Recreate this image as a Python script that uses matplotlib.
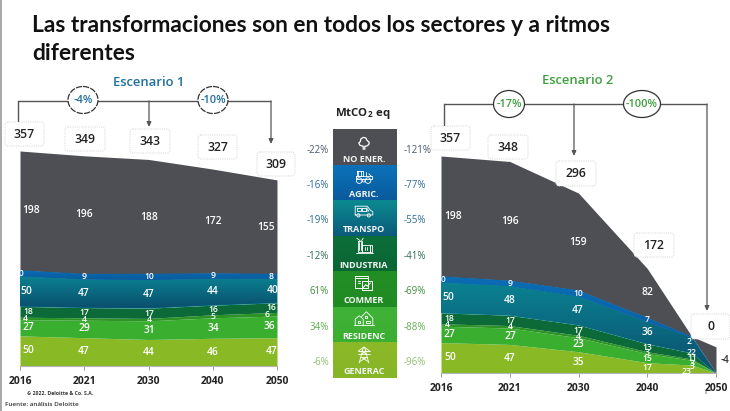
import numpy as np
import matplotlib
matplotlib.use("Agg")
import matplotlib.pyplot as plt
from matplotlib.patches import FancyBboxPatch, Ellipse, Rectangle, Circle
from matplotlib.colors import LinearSegmentedColormap

# ---------- data ----------
years = ["2016", "2021", "2030", "2040", "2050"]
sectors = ["GENERAC", "RESIDENC", "COMMER", "INDUSTRIA", "TRANSPO", "AGRIC.", "NO ENER."]

e1_generac = [50, 47, 44, 46, 47]
e1_residenc = [27, 29, 31, 34, 36]
e1_commer = [4, 4, 4, 5, 6]
e1_industria = [18, 17, 17, 16, 16]
e1_transpo = [50, 47, 47, 44, 40]
e1_agric = [10, 9, 10, 9, 8]
e1_noener = [198, 196, 188, 172, 155]
e1_totals = [357, 349, 343, 327, 309]

# Scenario 2 has an unlabelled knot between 2040 and 2050 where non-energy meets the sectors
e2_pos = [0, 1, 2, 3, 3.65, 4]
e2_generac = [50, 47, 35, 17, 13, 0]
e2_residenc = [27, 27, 23, 15, 8, 0]
e2_commer = [4, 4, 4, 3, 2, 0]
e2_industria = [18, 17, 17, 13, 10, 0]
e2_transpo = [50, 48, 47, 36, 25, 0]
e2_agric = [10, 9, 10, 7, 2, 0]
e2_noener = [198, 196, 159, 82]
e2_totals = [357, 348, 296, 172, 0]
e2_outline = [357, 348, 296, 172, 60, 43]
e2_knot_labels = ["23", "3", "3", "11", "22", "2"]
e2_end_label = "-4"

e1_pct = ["-22%", "-16%", "-19%", "-12%", "61%", "34%", "-6%"]
e2_pct = ["-121%", "-77%", "-55%", "-41%", "-69%", "-88%", "-96%"]
e1_bracket = ["-4%", "-10%"]
e2_bracket = ["-17%", "-100%"]

# ---------- style ----------
W, H = 730, 411
plt.rcParams["font.family"] = ["Open Sans", "DejaVu Sans"]
plt.rcParams["mathtext.fontset"] = "custom"
plt.rcParams["mathtext.bf"] = "Open Sans:bold"
plt.rcParams["mathtext.rm"] = "Open Sans:bold"

LIME, GREEN, MID, DARK, GREY = "#8ab926", "#3aae2f", "#2b9425", "#0b6a37", "#4d4f54"
TEAL = ("#0a8291", "#0a4f6e")
BLUE = ("#0b6cb4", "#0a5a9c")
LINE = "#555555"

fig = plt.figure(figsize=(W / 100, H / 100), dpi=100, facecolor="white")


def make_axes(x0, x1, base, scale, top):
    ax = fig.add_axes([x0 / W, 1 - base / H, (x1 - x0) / W, (base - top) / H])
    ax.set_xlim(0, 4)
    ax.set_ylim(0, (base - top) / scale)
    ax.patch.set_alpha(0)
    for s in ("top", "left", "right"):
        ax.spines[s].set_visible(False)
    ax.spines["bottom"].set_color("#b5b5b5")
    ax.set_yticks([])
    ax.set_xticks(range(5))
    ax.set_xticklabels(years, fontsize=7.4, fontweight="bold", color="#222222")
    ax.tick_params(axis="x", length=3, width=0.7, color="#999999", pad=4)
    return ax


def band(ax, x, y0, y1, color):
    poly = ax.fill_between(x, y0, y1, color=color if isinstance(color, str) else color[0], lw=0)
    if not isinstance(color, str):
        cmap = LinearSegmentedColormap.from_list("g", [color[0], color[1]])
        im = ax.imshow(np.linspace(0, 1, 128).reshape(-1, 1), cmap=cmap, aspect="auto",
                       extent=(min(x), max(x), float(np.min(y0)), float(np.max(y1))), origin="upper",
                       zorder=poly.get_zorder() + 0.1)
        im.set_clip_path(poly.get_paths()[0], transform=ax.transData)
    ax.set_xlim(0, 4)


def draw_stack(ax, x, layers, outline, top_ylim):
    colors = [LIME, GREEN, MID, DARK, TEAL, BLUE]
    base = np.zeros(len(x))
    for vals, c in zip(layers, colors):
        band(ax, x, base, base + np.array(vals), c)
        base = base + np.array(vals)
    band(ax, x, base, np.array(outline, dtype=float), GREY)
    ax.set_ylim(0, top_ylim)
    return base


def label(ax, x0, xspan, px, y, s, size=7.4, color="white"):
    ax.text((px - x0) / xspan * 4, y, str(s), color=color, fontsize=size, ha="center", va="center",
            fontweight="semibold", zorder=6, clip_on=False)


# ---------- scenario 1 ----------
sc1 = 215 / 357
ax1 = make_axes(20, 277, 366, sc1, 110)
lim1 = ax1.get_ylim()[1]
layers1 = [e1_generac, e1_residenc, e1_commer, e1_industria, e1_transpo, e1_agric]
draw_stack(ax1, np.arange(5), layers1, e1_totals, lim1)
cols1 = [
    [28, 28, 25, 28, 26, 19, 31],
    [84] * 7,
    [149] * 7,
    [213] * 7,
    [272, 269, 267, 271, 273, 271, 266],
]
allv = layers1 + [e1_noener]
for i in range(5):
    b = 0
    for k, vals in enumerate(allv):
        v = vals[i]
        thin = v < 20
        label(ax1, 20, 257, cols1[i][k], b + v / 2, v, size=6.2 if thin else 7.4)
        b += v

# ---------- scenario 2 ----------
sc2 = 217 / 357
ax2 = make_axes(441, 716, 373, sc2, 110)
lim2 = ax2.get_ylim()[1]
layers2 = [e2_generac, e2_residenc, e2_commer, e2_industria, e2_transpo, e2_agric]
draw_stack(ax2, np.array(e2_pos), layers2, e2_outline, lim2)
cols2 = [
    [450, 449, 447, 449, 448, 441, 453],
    [510] * 7,
    [578] * 7,
    [647] * 7,
]
allv2 = layers2 + [e2_noener]
for i in range(4):
    b = 0
    for k, vals in enumerate(allv2):
        v = vals[i]
        thin = v < 20
        label(ax2, 441, 275, cols2[i][k], b + v / 2, v, size=6.2 if thin else 7.4)
        b += v

# ---------- overlay in pixel coordinates ----------
ov = fig.add_axes([0, 0, 1, 1], zorder=10)
ov.set_xlim(0, W)
ov.set_ylim(H, 0)
ov.axis("off")
ov.patch.set_alpha(0)


def T(x, y, s, **kw):
    kw.setdefault("ha", "center")
    kw.setdefault("va", "center")
    return ov.text(x, y, s, **kw)


ov.add_patch(Rectangle((0, 0), 1.5, H, color="#a9a9a9", lw=0))

T(32, 25, "Las transformaciones son en todos los sectores y a ritmos", ha="left", fontsize=16.4,
  family=["Lato", "DejaVu Sans"], fontweight="bold", color="#111111")
T(32, 54, "diferentes", ha="left", fontsize=16.4, family=["Lato", "DejaVu Sans"], fontweight="bold",
  color="#111111")

T(149, 82, "Escenario 1", fontsize=9.4, fontweight="semibold", color="#1f6e9c")
T(578, 80, "Escenario 2", fontsize=9.4, fontweight="semibold", color="#3f9f3f")


def hline(x0, x1, y):
    ov.plot([x0, x1], [y, y], color=LINE, lw=1.0, solid_capstyle="butt")


def arrow(x, y0, y1):
    ov.annotate("", xy=(x, y1), xytext=(x, y0),
                arrowprops=dict(arrowstyle="-|>,head_width=0.13,head_length=0.28", color=LINE, lw=0.9,
                                shrinkA=0, shrinkB=0))


def bubble(x, y, w, h, s, color, ls="-"):
    ov.add_patch(Ellipse((x, y), w, h, fc="white", ec="#333333", lw=0.9, ls=ls, zorder=3))
    T(x, y, s, fontsize=7.9, fontweight="semibold", color=color, zorder=4)


def box(x0, y0, x1, y1, s):
    ov.add_patch(FancyBboxPatch((x0 + 2, y0 + 2), x1 - x0 - 4, y1 - y0 - 4, boxstyle="round,pad=2,rounding_size=3",
                                fc="white", ec="#dcdcdc", lw=0.8, ls=(0, (1, 1)), zorder=3))
    T((x0 + x1) / 2, (y0 + y1) / 2, str(s), fontsize=8.8, fontweight="semibold", color="#222222", zorder=4)


# bracket scenario 1
hline(18, 271, 101)
ov.plot([18, 18], [101, 123], color=LINE, lw=1.0)
arrow(149, 101, 127)
arrow(271, 101, 144)
bubble(83, 100, 30, 27, e1_bracket[0], "#1f6e9c", ls=(0, (5, 1)))
bubble(213, 100, 30, 27, e1_bracket[1], "#1f6e9c", ls=(0, (5, 1)))
boxes1 = [(5, 122, 44, 146), (65, 127, 105, 151), (130, 129, 170, 153), (198, 135, 237, 159), (257, 152, 295, 176)]
for bx, t in zip(boxes1, e1_totals):
    box(*bx, t)

# bracket scenario 2
hline(444, 707, 104)
ov.plot([444, 444], [104, 127], color=LINE, lw=1.0)
arrow(574, 104, 156)
arrow(707, 104, 311)
bubble(509, 104, 31, 27, e2_bracket[0], "#3f9f3f")
bubble(642, 104, 37, 27, e2_bracket[1], "#3f9f3f")
boxes2 = [(431, 126, 470, 150), (488, 135, 528, 159), (556, 161, 596, 186), (634, 233, 674, 257), (691, 314, 730, 339)]
for bx, t in zip(boxes2, e2_totals):
    box(*bx, t)

# knot column and end label in scenario 2
knot_xy = [(687, 371), (692, 366), (692, 363), (692, 358), (692, 352), (689, 341)]
for (x, y), s in zip(knot_xy, e2_knot_labels):
    T(x, y, s, fontsize=6.2, fontweight="semibold", color="white", zorder=2)
T(725, 360, e2_end_label, fontsize=7, fontweight="semibold", color="#333333")
T(706, 393, "8", fontsize=3, color="#666666")

# centre column
T(363, 113, r"$\mathbf{MtCO_2\ eq}$", fontsize=8.2, color="#222222")
cell_top, cell_h = 130, 248 / 7
cell_cols = [(GREY, GREY), ("#0c72ba", "#0a5a9c"), ("#0c8a90", "#0b5a7c"), ("#0b6f3a", "#0b6534"),
             ("#228f25", "#1f8a22"), ("#3fb338", "#3cae32"), ("#8cb928", "#86b526")]
cell_names = sectors[::-1]
pct_cols1 = ["#47596b", "#2c6a9a", "#2a6c8c", "#2d6d50", "#3f8f3f", "#62ae52", "#93bd6e"]
pct_cols2 = ["#47596b", "#2c6a9a", "#2a6c8c", "#2d6d50", "#3f8f3f", "#62ae52", "#93bd6e"]
for i, (name, cc) in enumerate(zip(cell_names, cell_cols)):
    y = cell_top + i * cell_h
    cm = LinearSegmentedColormap.from_list("c", list(cc))
    ov.imshow(np.linspace(0, 1, 64).reshape(-1, 1), cmap=cm, aspect="auto", extent=(333, 397, y + cell_h, y),
              zorder=1)
    T(364, y + 29, name, fontsize=6.5, fontweight="bold", color="#f2f6f2", zorder=3)
    T(329, y + 20, e1_pct[i], ha="right", fontsize=7, fontweight="medium", color=pct_cols1[i])
    T(404, y + 20, e2_pct[i], ha="left", fontsize=7, fontweight="medium", color=pct_cols2[i])
ov.set_xlim(0, W)
ov.set_ylim(H, 0)

# simple white line icons
ICON = 0.8


def lines(cx, cy, segs, lw=0.6):
    for seg in segs:
        xs = [cx + ICON * p[0] for p in seg]
        ys = [cy + ICON * p[1] for p in seg]
        ov.plot(xs, ys, color="white", lw=lw, zorder=3, solid_capstyle="round")


def rect(x, y, w, h):
    return [(x, y), (x + w, y), (x + w, y + h), (x, y + h), (x, y)]


def ring(cx, cy, r, dx, dy):
    ov.add_patch(Circle((cx + ICON * dx, cy + ICON * dy), ICON * r, fc="none", ec="white", lw=0.6, zorder=3))


# tree
lines(364, 143, [[(-1, 8), (-1, 4), (-5, 3), (-6.5, 0), (-4.5, -2), (-4, -5), (-1, -7), (2, -6.5), (4, -3),
                  (6.5, -1), (6, 2), (3, 4), (1, 4), (1, 8)]], lw=0.9)
# tractor
lines(364, 177, [rect(-9, -8, 8, 7), [(-7, -8), (-7, -1)], [(-4, -8), (-4, -1)], rect(-10, -1, 20, 3),
                 [(3, -6), (3, -1)], [(6, -4), (9, -1)]])
ring(364, 177, 3.5, -6, 4.5)
ring(364, 177, 3.5, 5, 4.5)
ring(364, 177, 1.8, -0.5, 4.5)
# van
lines(364, 211, [[(-11, 5), (-11, -6), (4, -6), (8, -1), (11, 1), (11, 5), (-11, 5)], rect(-9, -4, 5, 4),
                 rect(-3, -4, 5, 4), [(3, -4), (6, 0), (3, 0)]])
ring(364, 211, 2, -7, 5.5)
ring(364, 211, 2, 6, 5.5)
# factory
lines(364, 247, [rect(-8, -8, 6, 14), rect(-2, -2, 10, 8), [(-10, 7), (11, 7)], [(-6, -6), (-6, 4)],
                 [(-4, -6), (-4, 4)], [(1, 0), (1, 4)], [(4, 0), (4, 4)], [(-9, -11), (-5, -8)],
                 [(-1, -11), (-3, -8)], rect(8, -3, 2, 9)])
# documents
lines(364, 283, [rect(-11, -9, 16, 15), [(-11, -6), (5, -6)], [(-8, -3), (-5, -3)], [(-8, 0), (-5, 0)],
                 rect(-3, -2, 13, 11), [(-1, 6), (2, 2), (4, 4), (8, 0)]], lw=0.7)
# houses
lines(364, 319, [[(-11, 8), (-11, 0), (-6, -4), (-1, 0), (-1, 8)], [(-3, -3), (3, -9), (11, -1), (11, 8)],
                 [(-12, 8), (12, 8)], rect(-8, 2, 3, 3), rect(3, 2, 4, 3), rect(1, -4, 3, 3)])
# pylon
lines(364, 355, [[(-6, 10), (-1, -9), (1, -9), (6, 10)], [(-7, -5), (0, -10), (7, -5)], [(-7, -1), (7, -1)],
                 [(-7, -5), (7, -5)], [(-4, 3), (4, 3)], [(-5, 8), (3, 3)], [(5, 8), (-3, 3)],
                 [(-3, -1), (3, -5)], [(3, -1), (-3, -5)]])

# footer
T(60, 393, "© 2022. Deloitte & Co. S.A.", fontsize=3.7, fontweight="bold", color="#333333")
T(5, 404, "Fuente: análisis Deloitte", ha="left", fontsize=4.6, fontweight="semibold", color="#333333")

fig.savefig("out.png", dpi=100)
